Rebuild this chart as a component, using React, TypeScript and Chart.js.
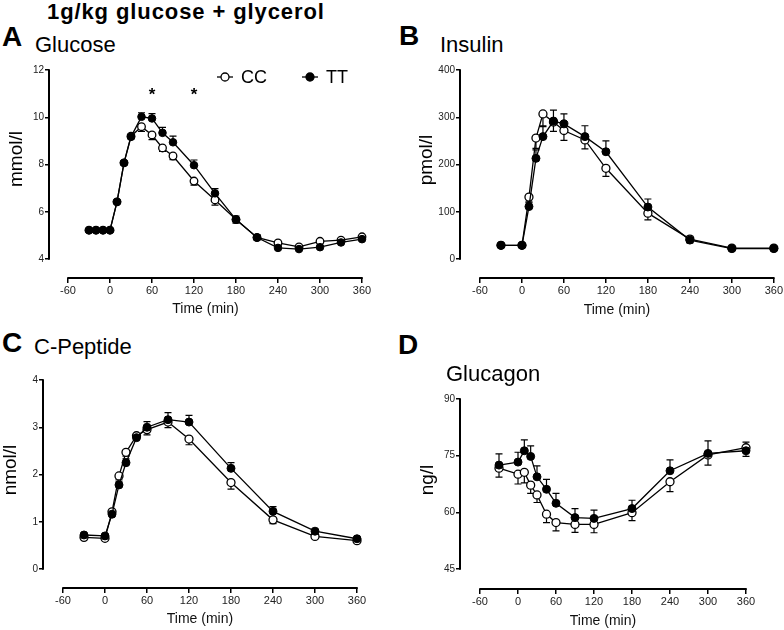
import React, { useEffect, useRef } from 'react';
import { Chart, registerables } from 'chart.js';

Chart.register(...registerables);

const FONT = '"Liberation Sans", Arial, Helvetica, sans-serif';
Chart.defaults.font.family = FONT;

// ---------- shared axis ----------
const xTickValues = [-60, 0, 60, 120, 180, 240, 300, 360];
const xTickLabels = ['-60', '0', '60', '120', '180', '240', '300', '360'];
const seriesNames = ['CC', 'TT'];

// ---------- A: Glucose (mmol/l) ----------
const glucoseTimes = [-30, -20, -10, 0, 10, 20, 30, 45, 60, 75, 90, 120, 150, 180, 210, 240, 270, 300, 330, 360];
const glucoseCC = [5.22, 5.22, 5.22, 5.22, 6.42, 8.07, 9.2, 9.6, 9.25, 8.7, 8.36, 7.3, 6.5, 5.67, 4.91, 4.68, 4.51, 4.75, 4.8, 4.94];
const glucoseTT = [5.22, 5.22, 5.22, 5.22, 6.42, 8.07, 9.17, 10.02, 9.95, 9.34, 8.94, 7.97, 6.78, 5.67, 4.91, 4.47, 4.42, 4.5, 4.7, 4.84];
const glucoseSemCC = [0.05, 0.05, 0.05, 0.05, 0.08, 0.1, 0.12, 0.2, 0.2, 0.15, 0.15, 0.17, 0.22, 0.15, 0.1, 0.08, 0.06, 0.06, 0.06, 0.06];
const glucoseSemTT = [0.05, 0.05, 0.05, 0.05, 0.08, 0.1, 0.12, 0.17, 0.2, 0.23, 0.26, 0.22, 0.2, 0.15, 0.12, 0.08, 0.06, 0.06, 0.06, 0.06];
const glucoseYTicks = [4, 6, 8, 10, 12];
const glucoseYTickLabels = ['4', '6', '8', '10', '12'];
const glucoseSigTimes = [60, 120];
const glucoseSigLevel = 11.05;

// ---------- B: Insulin (pmol/l) ----------
const insulinTimes = [-30, 0, 10, 20, 30, 45, 60, 90, 120, 180, 240, 300, 360];
const insulinCC = [29, 29, 131, 256, 307, 290, 272, 252, 192, 97, 42, 23, 23];
const insulinTT = [29, 29, 111, 213, 259, 292, 286, 259, 227, 110, 40, 22, 22];
const insulinSemCC = [3, 3, 10, 22, 25, 20, 21, 19, 17, 14, 8, 3, 3];
const insulinSemTT = [3, 3, 8, 18, 21, 23, 21, 23, 23, 17, 8, 3, 3];
const insulinYTicks = [0, 100, 200, 300, 400];
const insulinYTickLabels = ['0', '100', '200', '300', '400'];

// ---------- C: C-Peptide (nmol/l) ----------
const cpepTimes = [-30, 0, 10, 20, 30, 45, 60, 90, 120, 180, 240, 300, 360];
const cpepCC = [0.67, 0.65, 1.21, 1.97, 2.47, 2.82, 2.95, 3.11, 2.75, 1.83, 1.04, 0.69, 0.6];
const cpepTT = [0.72, 0.7, 1.16, 1.78, 2.25, 2.78, 3.0, 3.16, 3.11, 2.13, 1.22, 0.8, 0.64];
const cpepSemCC = [0.03, 0.03, 0.05, 0.07, 0.08, 0.07, 0.11, 0.12, 0.12, 0.14, 0.08, 0.04, 0.03];
const cpepSemTT = [0.03, 0.03, 0.05, 0.08, 0.08, 0.08, 0.12, 0.15, 0.14, 0.12, 0.1, 0.04, 0.03];
const cpepYTicks = [0, 1, 2, 3, 4];
const cpepYTickLabels = ['0', '1', '2', '3', '4'];

// ---------- D: Glucagon (ng/l) ----------
const glucagonTimes = [-30, 0, 10, 20, 30, 45, 60, 90, 120, 180, 240, 300, 360];
const glucagonCC = [71.7, 70.1, 70.6, 67.2, 64.6, 59.5, 57.3, 56.8, 56.8, 59.9, 68.1, 75.2, 77.1];
const glucagonTT = [72.5, 73.3, 76.3, 74.8, 69.4, 66.1, 62.4, 58.6, 58.4, 61.0, 71.0, 75.6, 76.3];
const glucagonSemCC = [2.4, 2.6, 2.8, 2.2, 2.0, 2.2, 2.2, 2.1, 2.2, 2.1, 2.6, 2.7, 2.3];
const glucagonSemTT = [3.0, 2.6, 2.9, 2.8, 2.9, 2.6, 2.6, 2.4, 2.2, 2.2, 2.9, 3.3, 2.3];
const glucagonYTicks = [45, 60, 75, 90];
const glucagonYTickLabels = ['45', '60', '75', '90'];

type PanelCfg = {
  box: { left: number; top: number; width: number; height: number };
  yAxisX: number; yTopPx: number; yBottomPx: number;
  xAxisPx: number; xFirstPx: number; xLastPx: number; xTitleCenter: number;
  times: number[]; cc: number[]; tt: number[]; semCC: number[]; semTT: number[];
  yTicks: number[]; yTickLabels: string[];
  radius: number;
  sig?: { times: number[]; level: number };
  legend?: { x: number; y: number; filled: boolean; label: string }[];
};

const panels: PanelCfg[] = [
  {
    box: { left: 0, top: 60, width: 390, height: 265 },
    yAxisX: 49, yTopPx: 70, yBottomPx: 259, xAxisPx: 278, xFirstPx: 68, xLastPx: 362, xTitleCenter: 309,
    times: glucoseTimes, cc: glucoseCC, tt: glucoseTT, semCC: glucoseSemCC, semTT: glucoseSemTT,
    yTicks: glucoseYTicks, yTickLabels: glucoseYTickLabels, radius: 3.8,
    sig: { times: glucoseSigTimes, level: glucoseSigLevel },
    legend: [
      { x: 225, y: 17, filled: false, label: seriesNames[0] },
      { x: 310, y: 17, filled: true, label: seriesNames[1] },
    ],
  },
  {
    box: { left: 390, top: 60, width: 394, height: 265 },
    yAxisX: 460, yTopPx: 70, yBottomPx: 259, xAxisPx: 278, xFirstPx: 480, xLastPx: 774, xTitleCenter: 310,
    times: insulinTimes, cc: insulinCC, tt: insulinTT, semCC: insulinSemCC, semTT: insulinSemTT,
    yTicks: insulinYTicks, yTickLabels: insulinYTickLabels, radius: 4,
  },
  {
    box: { left: 0, top: 370, width: 390, height: 260 },
    yAxisX: 43, yTopPx: 380, yBottomPx: 569, xAxisPx: 588, xFirstPx: 63, xLastPx: 357, xTitleCenter: 619,
    times: cpepTimes, cc: cpepCC, tt: cpepTT, semCC: cpepSemCC, semTT: cpepSemTT,
    yTicks: cpepYTicks, yTickLabels: cpepYTickLabels, radius: 4,
  },
  {
    box: { left: 390, top: 370, width: 394, height: 260 },
    yAxisX: 460, yTopPx: 399, yBottomPx: 569, xAxisPx: 589, xFirstPx: 480, xLastPx: 746, xTitleCenter: 621,
    times: glucagonTimes, cc: glucagonCC, tt: glucagonTT, semCC: glucagonSemCC, semTT: glucagonSemTT,
    yTicks: glucagonYTicks, yTickLabels: glucagonYTickLabels, radius: 4,
  },
];

const texts = [
  { text: '1g/kg glucose + glycerol', left: 47, baseline: 20, size: 22, bold: true, spacing: 0.9 },
  { text: 'A', left: 2, baseline: 47, size: 28, bold: true, spacing: 0 },
  { text: 'Glucose', left: 35, baseline: 53, size: 22, bold: false, spacing: 0 },
  { text: 'B', left: 399, baseline: 46, size: 28, bold: true, spacing: 0 },
  { text: 'Insulin', left: 440, baseline: 53, size: 22, bold: false, spacing: 0 },
  { text: 'C', left: 2, baseline: 353, size: 28, bold: true, spacing: 0 },
  { text: 'C-Peptide', left: 34, baseline: 355, size: 22, bold: false, spacing: 0 },
  { text: 'D', left: 398, baseline: 355, size: 28, bold: true, spacing: 0 },
  { text: 'Glucagon', left: 446, baseline: 382, size: 22, bold: false, spacing: 0 },
];

const yTitles = [
  { text: 'mmol/l', baselineX: 22, centerY: 159 },
  { text: 'pmol/l', baselineX: 432, centerY: 160 },
  { text: 'nmol/l', baselineX: 16, centerY: 470 },
  { text: 'ng/l', baselineX: 433, centerY: 480 },
];
const Y_TITLE_SIZE = 19;

const semPlugin = {
  id: 'semBars',
  beforeDatasetsDraw(chart: any) {
    const { ctx } = chart;
    const ys = chart.scales.y;
    ctx.save();
    ctx.strokeStyle = '#000';
    ctx.lineWidth = 1.2;
    chart.data.datasets.forEach((ds: any, di: number) => {
      const meta = chart.getDatasetMeta(di);
      meta.data.forEach((el: any, i: number) => {
        const e = ds.sem[i];
        if (!e) return;
        const v = ds.data[i].y;
        const y1 = ys.getPixelForValue(v + ds.semDir * e);
        ctx.beginPath();
        ctx.moveTo(el.x, el.y);
        ctx.lineTo(el.x, y1);
        ctx.moveTo(el.x - 3.5, y1);
        ctx.lineTo(el.x + 3.5, y1);
        ctx.stroke();
      });
    });
    ctx.restore();
  },
};

const axisPlugin = {
  id: 'prismAxes',
  afterDraw(chart: any, _a: any, opts: any) {
    const { ctx } = chart;
    const xs = chart.scales.x;
    const ys = chart.scales.y;
    ctx.save();
    ctx.strokeStyle = '#000';
    ctx.lineWidth = 2;
    ctx.beginPath();
    ctx.moveTo(xs.getPixelForValue(opts.xFirst) - 0.75, xs.top);
    ctx.lineTo(xs.getPixelForValue(opts.xLast) + 0.75, xs.top);
    ctx.moveTo(ys.right, ys.getPixelForValue(opts.yLast) - 0.75);
    ctx.lineTo(ys.right, ys.getPixelForValue(opts.yFirst) + 0.75);
    ctx.stroke();
    // significance marks
    if (opts.sig) {
      ctx.fillStyle = '#000';
      ctx.font = `bold 17px ${FONT}`;
      ctx.textAlign = 'center';
      ctx.textBaseline = 'middle';
      opts.sig.times.forEach((t: number) => {
        ctx.fillText('*', xs.getPixelForValue(t), ys.getPixelForValue(opts.sig.level) + 3);
      });
    }
    // legend
    if (opts.legend) {
      opts.legend.forEach((it: any) => {
        ctx.lineWidth = 1.3;
        ctx.beginPath();
        ctx.moveTo(it.x - 8, it.y);
        ctx.lineTo(it.x + 8, it.y);
        ctx.stroke();
        ctx.beginPath();
        ctx.arc(it.x, it.y, 4, 0, Math.PI * 2);
        ctx.fillStyle = it.filled ? '#000' : '#fff';
        ctx.fill();
        ctx.stroke();
        ctx.fillStyle = '#000';
        ctx.font = `18px ${FONT}`;
        ctx.textAlign = 'left';
        ctx.textBaseline = 'middle';
        ctx.fillText(it.label, it.x + 16, it.y + 1);
      });
    }
    ctx.restore();
  },
};

function Panel({ cfg }: { cfg: PanelCfg }) {
  const ref = useRef<HTMLCanvasElement>(null);
  useEffect(() => {
    const { box } = cfg;
    const yAxisWidth = cfg.yAxisX - box.left;
    const padTop = cfg.yTopPx - box.top;
    const padRight = box.left + box.width - cfg.xLastPx;
    const xAxisHeight = box.top + box.height - cfg.xAxisPx;
    const xFirst = xTickValues[0];
    const xLast = xTickValues[xTickValues.length - 1];
    const pxPerMin = (cfg.xLastPx - cfg.xFirstPx) / (xLast - xFirst);
    const xMin = xFirst - (cfg.xFirstPx - cfg.yAxisX) / pxPerMin;
    const yFirst = cfg.yTicks[0];
    const yLast = cfg.yTicks[cfg.yTicks.length - 1];
    const pxPerUnit = (cfg.yBottomPx - cfg.yTopPx) / (yLast - yFirst);
    const yMin = yFirst - (cfg.xAxisPx - cfg.yBottomPx) / pxPerUnit;
    const titleSize = 14;
    const titlePadBottom = box.top + box.height - cfg.xTitleCenter - (titleSize * 1.2) / 2;

    const mk = (vals: number[]) => cfg.times.map((t, i) => ({ x: t, y: vals[i] }));

    const chart = new Chart(ref.current as HTMLCanvasElement, {
      type: 'line',
      data: {
        datasets: [
          {
            label: seriesNames[1], data: mk(cfg.tt), order: 0,
            borderColor: '#000', borderWidth: 1.3, backgroundColor: '#000',
            pointRadius: cfg.radius, pointBackgroundColor: '#000', pointBorderColor: '#000', pointBorderWidth: 1,
            tension: 0, clip: false as any,
            sem: cfg.semTT, semDir: 1,
          } as any,
          {
            label: seriesNames[0], data: mk(cfg.cc), order: 1,
            borderColor: '#000', borderWidth: 1.3, backgroundColor: '#fff',
            pointRadius: cfg.radius, pointBackgroundColor: '#fff', pointBorderColor: '#000', pointBorderWidth: 1.3,
            tension: 0, clip: false as any,
            sem: cfg.semCC, semDir: -1,
          } as any,
        ],
      },
      options: {
        animation: false,
        responsive: false,
        maintainAspectRatio: false,
        events: [],
        layout: { padding: { left: 0, top: padTop, right: padRight, bottom: 0 } },
        plugins: {
          legend: { display: false },
          tooltip: { enabled: false },
          prismAxes: { xFirst, xLast, yFirst, yLast, sig: cfg.sig, legend: cfg.legend },
        } as any,
        scales: {
          x: {
            type: 'linear',
            min: xMin,
            max: xLast,
            afterBuildTicks: (s: any) => { s.ticks = xTickValues.map((v) => ({ value: v })); },
            afterFit: (s: any) => { s.height = xAxisHeight; },
            ticks: {
              autoSkip: false, maxRotation: 0, padding: 1, color: '#222',
              font: { size: 11, family: FONT },
              callback: (v: any) => xTickLabels[xTickValues.indexOf(Number(v))],
            },
            grid: { drawOnChartArea: false, drawTicks: true, tickLength: 5, color: '#000', tickColor: '#000', lineWidth: 1.5 },
            border: { display: false },
            title: {
              display: true, text: 'Time (min)', color: '#111',
              font: { size: titleSize, family: FONT },
              padding: { top: 0, bottom: titlePadBottom },
            },
          },
          y: {
            type: 'linear',
            min: yMin,
            max: yLast,
            afterBuildTicks: (s: any) => { s.ticks = cfg.yTicks.map((v) => ({ value: v })); },
            afterFit: (s: any) => { s.width = yAxisWidth; },
            ticks: {
              padding: 1, color: '#222',
              font: { size: 10, family: FONT },
              callback: (v: any) => cfg.yTickLabels[cfg.yTicks.indexOf(Number(v))],
            },
            grid: { drawOnChartArea: false, drawTicks: true, tickLength: 4, color: '#000', tickColor: '#000', lineWidth: 1.5 },
            border: { display: false },
          },
        },
      },
      plugins: [semPlugin, axisPlugin],
    });
    return () => chart.destroy();
  }, []);
  return (
    <canvas
      ref={ref}
      width={cfg.box.width}
      height={cfg.box.height}
      style={{ position: 'absolute', left: cfg.box.left, top: cfg.box.top, width: cfg.box.width, height: cfg.box.height }}
    />
  );
}

export default function App() {
  return (
    <div style={{ position: 'absolute', left: 0, top: 0, width: 784, height: 630, background: '#fff', overflow: 'hidden', fontFamily: FONT, color: '#000' }}>
      {panels.map((p, i) => (
        <Panel key={i} cfg={p} />
      ))}
      {texts.map((t, i) => (
        <div
          key={'t' + i}
          style={{
            position: 'absolute', left: t.left, top: t.baseline - 0.8465 * t.size,
            fontSize: t.size, lineHeight: `${t.size}px`, fontWeight: t.bold ? 'bold' : 'normal',
            letterSpacing: t.spacing, whiteSpace: 'nowrap',
          }}
        >
          {t.text}
        </div>
      ))}
      {yTitles.map((t, i) => (
        <div
          key={'y' + i}
          style={{
            position: 'absolute', left: t.baselineX - 0.3465 * Y_TITLE_SIZE, top: t.centerY,
            transform: 'translate(-50%, -50%) rotate(-90deg)',
            fontSize: Y_TITLE_SIZE, lineHeight: `${Y_TITLE_SIZE}px`, whiteSpace: 'nowrap',
          }}
        >
          {t.text}
        </div>
      ))}
    </div>
  );
}
